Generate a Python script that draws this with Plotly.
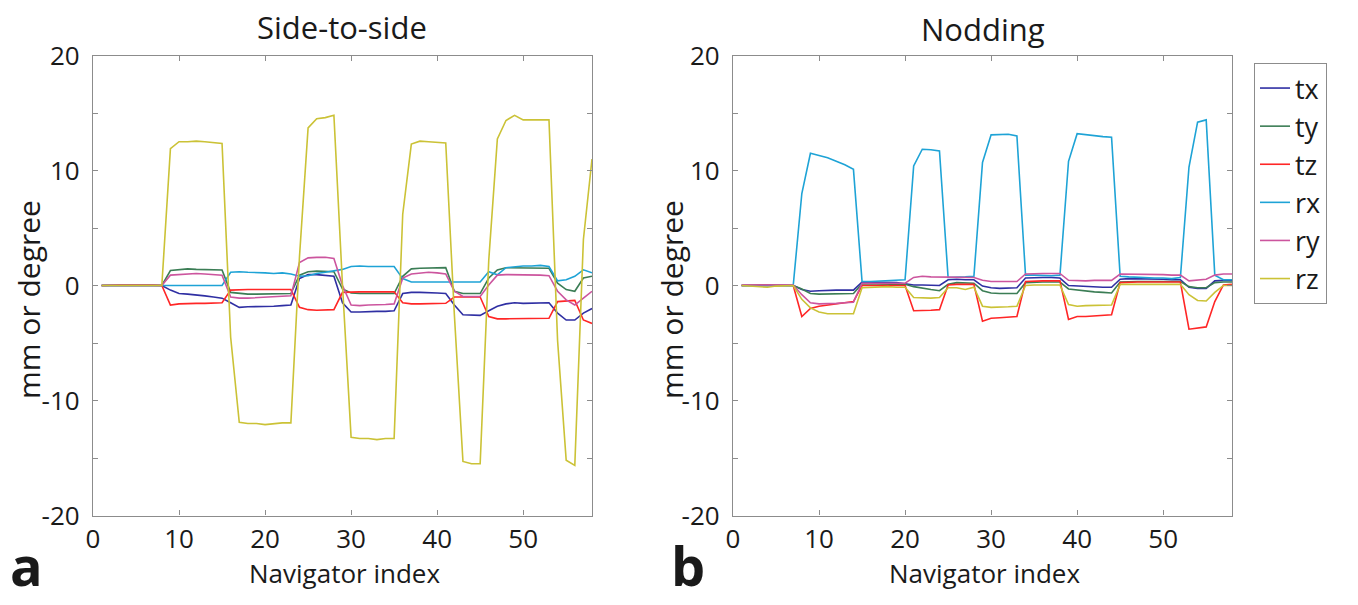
import plotly.graph_objects as go

# Navigator index
nav_index = list(range(1, 59))

# ---- Side-to-side (panel a) ----
side_tx = [0, 0, 0.03, 0, 0, 0.02, 0, 0,
           -0.4, -0.7, -0.75, -0.8, -0.9, -1.0, -1.1,
           -1.5, -1.9, -1.85, -1.85, -1.8, -1.8, -1.75, -1.7,
           0.6, 0.95, 0.95, 0.9, 0.8,
           -1.5, -2.3, -2.3, -2.25, -2.25, -2.25, -2.2,
           -0.7, -0.6, -0.6, -0.6, -0.65, -0.7,
           -1.7, -2.55, -2.6, -2.6,
           -2.2, -1.8, -1.6, -1.5, -1.55, -1.55, -1.55, -1.5,
           -2.4, -3.0, -3.0, -2.4, -2.0]
side_ty = [0, 0, 0, 0, 0.02, 0, 0, 0,
           1.3, 1.4, 1.45, 1.4, 1.4, 1.4, 1.35,
           -0.6, -0.7, -0.75, -0.75, -0.75, -0.75, -0.75, -0.7,
           0.9, 1.2, 1.25, 1.25, 1.2,
           -0.3, -0.65, -0.7, -0.7, -0.7, -0.7, -0.7,
           0.8, 1.45, 1.5, 1.5, 1.5, 1.55,
           -0.5, -0.7, -0.7, -0.7,
           0.65, 1.36, 1.55, 1.55, 1.55, 1.55, 1.55, 1.5,
           0.2, -0.35, -0.5, 0.65, 0.8]
side_tz = [0, 0.05, 0.05, 0.03, 0.05, 0.02, 0.03, 0,
           -1.7, -1.6, -1.55, -1.55, -1.55, -1.55, -1.5,
           -0.4, -0.35, -0.35, -0.35, -0.35, -0.35, -0.35, -0.35,
           -1.9, -2.1, -2.15, -2.15, -2.1,
           -0.6, -0.55, -0.55, -0.55, -0.55, -0.55, -0.55,
           -1.5, -1.6, -1.6, -1.6, -1.6, -1.55,
           -1.0, -1.0, -1.0, -1.0,
           -2.7, -2.9, -2.9, -2.9, -2.9, -2.9, -2.9, -2.85,
           -1.4, -1.35, -1.3, -3.0, -3.3]
side_rx = [0, 0, 0, 0, 0, 0, 0, 0,
           0.0, -0.05, -0.05, -0.05, -0.05, -0.05, 0.0,
           1.15, 1.2, 1.15, 1.15, 1.1, 1.05, 1.1, 1.0,
           0.8, 0.85, 1.05, 1.15, 1.3,
           1.4, 1.65, 1.7, 1.65, 1.65, 1.7, 1.65,
           0.6, 0.3, 0.3, 0.28, 0.3, 0.3,
           0.3, 0.3, 0.3, 0.3,
           1.2, 0.93, 1.55, 1.65, 1.7, 1.7, 1.75, 1.65,
           0.4, 0.5, 0.8, 1.36, 1.1]
side_ry = [0, 0, 0, 0, 0, 0, 0, 0,
           0.9, 0.95, 1.0, 1.05, 1.0, 0.95, 0.9,
           -1.0, -1.1, -1.1, -1.05, -1.0, -0.95, -0.95, -0.9,
           2.0, 2.4, 2.45, 2.45, 2.35,
           0.0, -1.7, -1.75, -1.7, -1.7, -1.65, -1.6,
           0.64, 1.0, 1.1, 1.15, 1.1, 1.0,
           -0.5, -0.95, -0.95, -0.95,
           0.05, 0.9, 0.95, 0.95, 0.95, 0.9, 0.9, 0.85,
           -0.5, -1.25, -1.7, -1.1, -0.5]
side_rz = [0, 0, 0, 0, 0, 0, 0, 0,
           11.9, 12.5, 12.5, 12.55, 12.5, 12.4, 12.35,
           -4.5, -11.9, -12.0, -12.0, -12.1, -12.0, -11.95, -11.95,
           2.5, 13.7, 14.5, 14.6, 14.8,
           0.0, -13.2, -13.3, -13.3, -13.4, -13.3, -13.3,
           6.2, 12.3, 12.55, 12.5, 12.45, 12.4,
           -2.5, -15.3, -15.5, -15.5,
           2.2, 12.75, 14.35, 14.8, 14.4, 14.4, 14.4, 14.4,
           -4.8, -15.2, -15.65, 4.0, 11.0]

# ---- Nodding (panel b) ----
nod_tx = [0, 0, 0, 0, 0.05, 0.05, 0,
          -0.35, -0.5, -0.45, -0.4, -0.4, -0.4, -0.4,
          0.3, 0.3, 0.3, 0.25, 0.25, 0.15,
          0.05, 0.05, 0.0, 0.0,
          0.5, 0.55, 0.5, 0.5,
          -0.05, -0.2, -0.25, -0.25, -0.2,
          0.65, 0.7, 0.7, 0.7, 0.65,
          0.0, -0.05, -0.1, -0.15, -0.15, -0.15,
          0.55, 0.6, 0.6, 0.6, 0.55, 0.55, 0.5, 0.5,
          -0.15, -0.25, -0.25,
          0.4, 0.45, 0.45]
nod_ty = [0, 0, 0, 0, 0, 0, 0,
          -0.3, -0.7, -0.75, -0.75, -0.75, -0.75, -0.7,
          0.15, 0.15, 0.15, 0.15, 0.15, 0.1,
          -0.1, -0.25, -0.35, -0.45,
          0.1, 0.25, 0.25, 0.2,
          -0.45, -0.65, -0.7, -0.7, -0.7,
          0.25, 0.3, 0.3, 0.3, 0.3,
          -0.3, -0.4, -0.5, -0.55, -0.6, -0.65,
          0.3, 0.35, 0.35, 0.35, 0.35, 0.35, 0.35, 0.35,
          -0.1, -0.2, -0.2,
          0.25, 0.3, 0.3]
nod_tz = [0, 0.05, 0.05, 0.05, 0.05, 0.05, 0,
          -2.7, -2.0, -1.8, -1.7, -1.6, -1.5, -1.4,
          0.0, 0.0, 0.0, 0.0, 0.0, 0.0,
          -2.2, -2.2, -2.15, -2.1,
          0.05, 0.1, 0.1, 0.1,
          -3.1, -2.85, -2.8, -2.75, -2.7,
          0.35, 0.4, 0.4, 0.4, 0.4,
          -2.95, -2.7, -2.7, -2.65, -2.6, -2.55,
          0.25, 0.3, 0.3, 0.3, 0.3, 0.3, 0.3, 0.3,
          -3.8, -3.7, -3.6,
          -1.4, 0.05, 0.1]
nod_rx = [0, 0, 0, 0, 0, 0, 0,
          8.0, 11.5, 11.3, 11.1, 10.8, 10.5, 10.1,
          0.35, 0.35, 0.4, 0.45, 0.5, 0.5,
          10.4, 11.85, 11.8, 11.7,
          0.7, 0.7, 0.75, 0.8,
          10.7, 13.1, 13.15, 13.15, 13.0,
          0.9, 0.9, 0.85, 0.85, 0.9,
          10.8, 13.2, 13.1, 13.0, 12.95, 12.9,
          0.8, 0.75, 0.7, 0.7, 0.65, 0.65, 0.6, 0.7,
          10.3, 14.2, 14.4,
          0.9, 0.5, 0.5]
nod_ry = [0.05, 0.05, 0.05, 0.05, 0.05, 0.05, 0.05,
          -0.8, -1.5, -1.6, -1.6, -1.55, -1.5, -1.45,
          0.2, 0.2, 0.2, 0.2, 0.2, 0.2,
          0.7, 0.8, 0.75, 0.75,
          0.7, 0.7, 0.7, 0.7,
          0.45, 0.35, 0.35, 0.35, 0.35,
          1.0, 1.05, 1.05, 1.05, 1.05,
          0.45, 0.4, 0.4, 0.45, 0.45, 0.45,
          1.0, 1.0, 1.0, 0.95, 0.95, 0.95, 0.9, 0.9,
          0.4, 0.45, 0.55,
          0.9, 1.0, 1.0]
nod_rz = [0, -0.05, -0.15, -0.15, -0.05, 0, 0,
          -1.2, -1.95, -2.3, -2.45, -2.45, -2.45, -2.45,
          -0.2, -0.15, -0.15, -0.1, -0.15, -0.15,
          -1.05, -1.1, -1.1, -1.05,
          -0.2, -0.2, -0.35, -0.15,
          -1.8, -1.9, -1.9, -1.85, -1.8,
          0.0, 0.05, 0.05, 0.05, 0.05,
          -1.65, -1.8, -1.75, -1.75, -1.75, -1.7,
          0.1, 0.1, 0.1, 0.1, 0.1, 0.1, 0.1, 0.1,
          -0.8, -1.3, -1.35,
          -0.6, 0.0, 0.0]

series_names = ["tx", "ty", "tz", "rx", "ry", "rz"]
series_colors = ["#2f2fa3", "#3b7d55", "#ff2626", "#1ea3d6", "#cc559e", "#cbc236"]
side_data = [side_tx, side_ty, side_tz, side_rx, side_ry, side_rz]
nod_data = [nod_tx, nod_ty, nod_tz, nod_rx, nod_ry, nod_rz]

y_tick_vals = [-20, -15, -10, -5, 0, 5, 10, 15, 20]
y_tick_text = ["-20", "", "-10", "", "0", "", "10", "", "20"]
x_tick_vals = [0, 10, 20, 30, 40, 50]
x_tick_text = ["0", "10", "20", "30", "40", "50"]

FONT = "Open Sans"
W, H = 1358, 605

fig = go.Figure()
for name, color, ys in zip(series_names, series_colors, side_data):
    fig.add_trace(go.Scatter(x=nav_index, y=ys, mode="lines", name=name,
                             line=dict(color=color, width=1.6),
                             showlegend=False, xaxis="x", yaxis="y"))
for name, color, ys in zip(series_names, series_colors, nod_data):
    fig.add_trace(go.Scatter(x=nav_index, y=ys, mode="lines", name=name,
                             line=dict(color=color, width=1.6),
                             showlegend=True, xaxis="x2", yaxis="y2"))

def px_x(p):
    return p / W

def px_y(p):
    return 1 - p / H

ydom = [px_y(515.5), px_y(55.5)]
axis_common = dict(showline=True, linecolor="#8c8c8c", linewidth=1.2, mirror="ticks",
                   ticks="inside", ticklen=5, tickcolor="#8c8c8c", tickwidth=1,
                   showgrid=False, zeroline=False, automargin=False,
                   tickfont=dict(family=FONT, size=26, color="#1a1a1a"))

fig.update_layout(
    template="none",
    width=W, height=H,
    margin=dict(l=0, r=0, t=0, b=0, pad=0),
    paper_bgcolor="white", plot_bgcolor="white",
    xaxis=dict(domain=[px_x(93), px_x(592)], range=[0, 58], anchor="y",
               tickvals=x_tick_vals, ticktext=x_tick_text, **axis_common),
    yaxis=dict(domain=ydom, range=[-20, 20], anchor="x", ticklabelstandoff=7,
               tickvals=y_tick_vals, ticktext=y_tick_text, **axis_common),
    xaxis2=dict(domain=[px_x(733), px_x(1232)], range=[0, 58], anchor="y2",
                tickvals=x_tick_vals, ticktext=x_tick_text, **axis_common),
    yaxis2=dict(domain=ydom, range=[-20, 20], anchor="x2", ticklabelstandoff=7,
                tickvals=y_tick_vals, ticktext=y_tick_text, **axis_common),
    legend=dict(x=px_x(1254), y=px_y(63), xanchor="left", yanchor="top",
                bordercolor="#8c8c8c", borderwidth=1, bgcolor="white",
                font=dict(family=FONT, size=27, color="#1a1a1a"),
                tracegroupgap=0),
    showlegend=True,
)

def ann(text, x, y, size, angle=0, bold=False, yanchor="middle"):
    fig.add_annotation(text=("<b>%s</b>" % text) if bold else text,
                       x=px_x(x), y=px_y(y), xref="paper", yref="paper",
                       showarrow=False, textangle=angle,
                       xanchor="center", yanchor=yanchor,
                       font=dict(family=FONT, size=size, color="#1a1a1a"))

ann("Side-to-side", 342, 27, 31)
ann("Nodding", 983, 29, 31)
ann("Navigator index", 344, 573, 26)
ann("Navigator index", 984, 573, 26)
ann("mm or degree", 28, 300, 30, angle=-90)
ann("mm or degree", 671, 300, 30, angle=-90)
ann("a", 26, 604, 54, bold=True, yanchor="bottom")
ann("b", 688, 604, 54, bold=True, yanchor="bottom")

fig.write_html("out.html",
               config={"displayModeBar": False},
               post_script="document.body.style.margin='0';document.body.style.overflow='hidden';")
